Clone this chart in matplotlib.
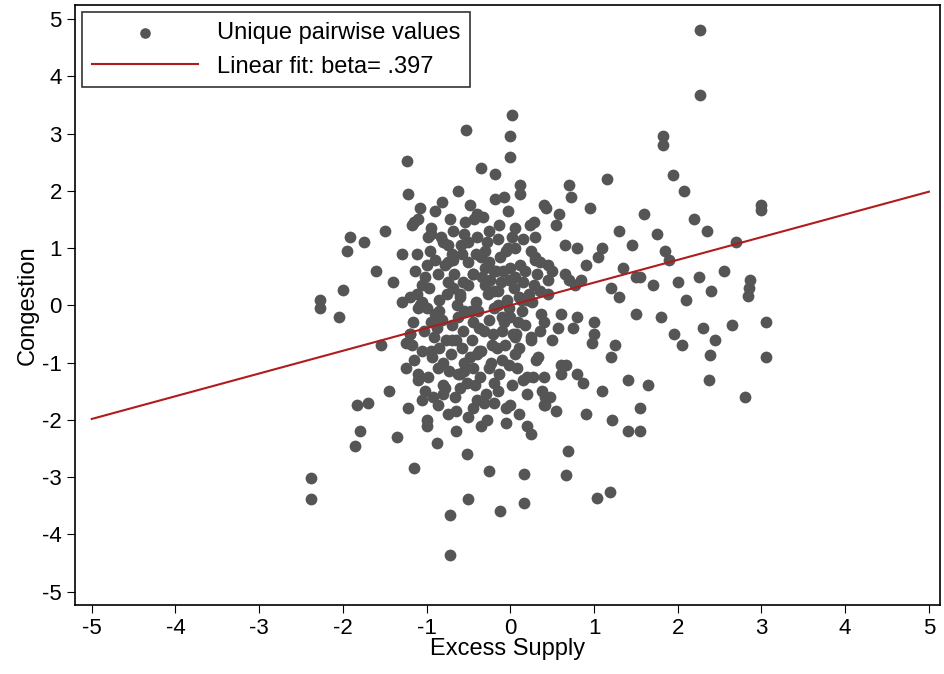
import matplotlib.pyplot as plt

plt.rcParams["font.family"] = ["Liberation Sans", "DejaVu Sans"]
plt.rcParams["axes.unicode_minus"] = False

# points: (excess supply, congestion)
points = [
    (2.27, 4.81), (2.27, 3.67), (-2.38, -3.02), (-2.38, -3.38), (-0.72, -4.37), (-0.72, -3.67),
    (-0.12, -3.60), (0.16, -3.45), (-0.50, -3.38), (1.19, -3.27), (1.04, -3.36), (3.06, -0.30),
    (3.06, -0.91), (2.99, 1.75), (2.99, 1.66), (-2.27, 0.09), (-2.27, -0.05), (-2.00, 0.26),
    (-1.91, 1.19), (-1.85, -2.45), (-1.83, -1.75), (-1.80, -2.20), (-1.23, 2.53), (-0.53, 3.06),
    (0.02, 3.32), (0.00, 2.95), (1.82, 2.95), (1.82, 2.80), (2.07, 2.00), (1.94, 2.27),
    (2.84, 0.17), (2.86, 0.45), (2.37, -1.31), (2.39, -0.87), (1.22, -2.01), (1.55, -2.19),
    (1.55, -1.80), (0.42, -1.75), (0.42, -1.60), (0.66, -2.97), (0.69, -2.54), (0.16, -2.95),
    (-0.25, -2.90), (-2.05, -0.20), (-1.95, 0.95), (-1.75, 1.10), (-1.70, -1.70), (-1.60, 0.60),
    (-1.55, -0.70), (-1.50, 1.30), (-1.45, -1.50), (-1.40, 0.40), (-1.35, -2.30), (-1.30, 0.90),
    (-1.25, -1.10), (-1.22, 1.95), (-1.20, -0.50), (-1.18, 1.40), (-1.15, -2.85), (-1.12, 0.20),
    (-1.10, -1.30), (-1.08, 1.70), (-1.05, -0.80), (-1.02, 0.50), (-1.00, -2.10), (-0.98, 1.20),
    (-0.95, -0.30), (-0.92, -1.60), (-0.90, 0.80), (-0.88, -2.40), (-0.85, 0.10), (-0.82, 1.80),
    (-0.80, -1.00), (-0.78, 0.70), (-0.75, -1.90), (-0.72, 1.50), (-0.70, -0.60), (-0.68, 0.30),
    (-0.65, -2.20), (-0.62, 2.00), (-0.60, -1.20), (-0.58, 0.90), (-0.55, -0.10), (-0.52, -2.60),
    (-0.50, 1.10), (-0.48, -0.90), (-0.45, 0.55), (-0.42, -1.40), (-0.40, 1.60), (-0.38, -0.40),
    (-0.35, 2.40), (-0.32, -1.70), (-0.30, 0.65), (-0.28, -2.00), (-0.25, 1.30), (-0.22, -0.70),
    (-0.20, 0.25), (-0.18, 2.30), (-0.15, -1.50), (-0.12, 0.85), (-0.10, -0.20), (-0.08, 1.90),
    (-0.05, -1.80), (-0.02, 0.45), (0.00, 2.60), (0.03, -0.50), (0.05, 1.00), (0.08, -1.10),
    (0.10, 0.15), (0.12, 2.10), (0.15, -1.30), (0.18, 0.60), (0.20, -2.10), (0.23, 1.40),
    (0.25, -0.60), (0.28, 0.35), (0.30, 1.20), (0.33, -0.90), (0.35, 0.75), (0.38, -1.50),
    (0.40, 1.75), (0.45, 0.20), (0.50, -0.60), (0.55, 1.40), (0.60, -1.20), (0.65, 0.55),
    (0.70, 2.10), (0.75, -0.40), (0.80, 1.00), (0.85, 0.45), (0.90, -1.90), (0.95, 1.70),
    (1.00, -0.30), (1.05, 0.85), (1.10, -1.50), (1.15, 2.20), (1.20, 0.30), (1.25, -0.70),
    (1.30, 1.30), (1.35, 0.65), (1.40, -2.20), (1.45, 1.05), (1.50, -0.15), (1.55, 0.50),
    (1.60, 1.60), (1.65, -1.40), (1.70, 0.35), (1.75, 1.25), (1.80, -0.20), (1.85, 0.95),
    (1.90, 0.80), (1.95, -0.50), (2.00, 0.40), (2.05, -0.70), (2.10, 0.10), (2.20, 1.50),
    (2.25, 0.50), (2.30, -0.40), (2.35, 1.30), (2.40, 0.25), (2.45, -0.60), (2.55, 0.60),
    (2.65, -0.35), (2.70, 1.10), (2.80, -1.60), (2.85, 0.30),
    (-1.20, -0.50), (-1.15, 1.45), (-1.10, -1.20), (-1.05, 0.05), (-1.00, 0.70), (-0.95, -0.80),
    (-0.90, 1.65), (-0.85, -0.10), (-0.80, -1.40), (-0.75, 0.40), (-0.70, 0.90), (-0.65, -0.60),
    (-0.60, 0.20), (-0.55, -1.00), (-0.50, 0.75), (-0.45, -0.30), (-0.40, 1.20), (-0.35, -0.80),
    (-0.30, 0.35), (-0.25, -1.10), (-0.20, 0.60), (-0.15, 0.00), (-0.10, -0.45), (-0.05, 0.95),
    (0.00, -0.20), (0.05, 0.50), (0.10, -0.75), (0.15, 0.40), (0.20, 0.10), (0.25, -0.55),
    (0.30, 0.80), (0.35, 0.25), (0.40, -0.30), (0.50, 0.60), (0.60, -0.15), (0.70, 0.45),
    (0.80, -0.20), (0.90, 0.70), (1.00, -0.50), (1.10, 1.00), (1.20, -0.90), (1.30, 0.15),
    (1.40, -1.30), (1.50, 0.50),
    (-1.18, -0.70), (-1.12, 0.90), (-1.02, -1.50), (-0.97, 0.30), (-0.88, -0.40), (-0.83, 1.20),
    (-0.77, -0.60), (-0.68, 0.80), (-0.63, -1.20), (-0.57, 0.40), (-0.47, -0.10), (-0.43, 1.50),
    (-0.37, -0.80), (-0.27, 0.20), (-0.23, -1.00), (-0.17, 0.60), (-0.07, -0.30), (-0.03, 1.00),
    (0.07, -0.50), (0.13, 0.10), (0.22, 0.20), (0.27, -1.25), (0.37, -0.15), (0.47, -1.60),
    (0.57, -0.40), (0.67, -1.05), (0.77, 0.35), (0.87, -1.35), (0.97, -0.65),
    (-1.22, -1.80), (-1.08, 0.00), (-0.93, -0.90), (-0.78, -1.45), (-0.62, -0.20), (-0.48, 1.75),
    (-0.33, 1.55), (-0.18, 1.85), (-0.03, 1.65), (0.12, 1.95), (0.28, 1.45), (0.43, 1.70),
    (0.58, 1.60), (0.73, 1.90),
    (-1.10, 1.50), (-0.95, 1.25), (-0.80, 1.10), (-0.65, -1.85), (-0.50, -1.95), (-0.35, -2.10),
    (-0.20, -1.70), (-0.05, -2.05), (0.10, -1.90), (0.25, -2.25), (0.40, -1.75), (0.55, -1.85),
    (-1.00, -2.00), (-0.85, -0.75), (-0.70, -0.35), (-0.55, -1.15), (-0.40, -0.85), (-0.25, -0.25),
    (-0.10, -0.95), (0.05, -0.55), (0.20, -1.25), (0.35, -0.45),
    (-1.25, -0.65), (-1.10, -0.05), (-0.90, -0.15), (-0.75, 0.75), (-0.60, 0.15), (-0.45, 0.55),
    (-0.30, 0.95), (-0.15, 0.25), (0.00, 0.65), (0.15, 1.15), (0.30, 0.85), (0.45, 0.45),
    (-1.30, 0.05), (-1.20, 0.15), (-1.00, -0.05), (-0.80, -1.55), (-0.60, -1.45), (-0.40, -1.65),
    (-0.20, -1.35), (0.00, -1.75), (0.20, -1.55), (0.40, -1.25), (0.60, -1.05), (0.80, -1.20),
    (-1.15, -0.95), (-0.95, 1.35), (-0.75, 1.05), (-0.55, 1.25), (-0.35, 0.85), (-0.15, 1.15),
    (0.05, 1.35), (0.25, 0.95), (0.45, 0.70), (0.65, 1.05),
    (-1.05, -1.65), (-0.98, -1.25), (-0.87, -1.75), (-0.73, -1.15), (-0.66, -1.60), (-0.58, -0.75),
    (-0.52, -1.35), (-0.44, -1.80), (-0.36, -1.25), (-0.29, -1.55), (-0.21, -0.50), (-0.13, -1.20),
    (-0.06, -0.70), (0.02, -1.40), (0.09, -0.30), (-1.14, 0.60), (-1.06, 0.35), (-0.96, 0.95),
    (-0.86, 0.55), (-0.76, 0.20), (-0.67, 0.55), (-0.59, 1.05), (-0.51, 0.35), (-0.41, 0.05),
    (-0.34, 0.50), (-0.26, 0.75), (-0.19, -0.05), (-0.11, 0.40), (-0.04, 0.10), (0.04, 0.30),
    (0.11, 0.70), (0.18, -0.35), (0.26, 0.05), (0.32, 0.55), (-1.16, -0.30), (-1.03, -0.45),
    (-0.91, -0.55), (-0.82, -0.25), (-0.71, -0.85), (-0.64, 0.00), (-0.56, -0.45), (-0.46, -0.60),
    (-0.39, -0.10), (-0.31, -0.45), (-0.24, 0.45), (-0.16, -0.75), (-0.09, 0.60), (-0.01, -0.05),
    (0.06, -0.85), (0.14, -0.10), (-0.69, 1.30), (-0.54, 1.45), (-0.41, 0.90), (-0.28, 1.10),
    (-0.13, 1.40), (0.02, 1.20), (-0.86, -1.10), (-0.44, -1.10), (-0.02, -1.05), (0.31, -0.95),
]
excess_supply = [p[0] for p in points]
congestion = [p[1] for p in points]

beta = 0.397
intercept = 0.0
fit_x = [-5, 5]
xticks = list(range(-5, 6))
yticks = list(range(-5, 6))

fig = plt.figure(figsize=(9.44, 6.74), dpi=100)
ax = fig.add_axes([0.0795, 0.102, 0.916, 0.89])

ax.scatter(excess_supply, congestion, s=72, color="#555555", linewidths=0,
           label="Unique pairwise values", zorder=2)
fit_y = [intercept + beta * v for v in fit_x]
ax.plot(fit_x, fit_y, color="#b01c1c", lw=1.5, label="Linear fit: beta= .397", zorder=3)

ax.set_xlim(-5.2, 5.13)
ax.set_ylim(-5.24, 5.24)
ax.set_xticks(xticks)
ax.set_yticks(yticks)
ax.tick_params(labelsize=16, length=6, color="black")
for s in ax.spines.values():
    s.set_linewidth(1.2)
ax.set_xlabel("Excess Supply", fontsize=17, labelpad=-1)
ax.set_ylabel("Congestion", fontsize=17, labelpad=2)

leg = ax.legend(loc="upper left", fontsize=17, frameon=True, fancybox=False,
                edgecolor="black", borderaxespad=0.3, handlelength=4.5,
                borderpad=0.4, labelspacing=0.5, markerscale=0.9)
leg.get_frame().set_linewidth(1.2)

fig.savefig("out.png", dpi=100)
